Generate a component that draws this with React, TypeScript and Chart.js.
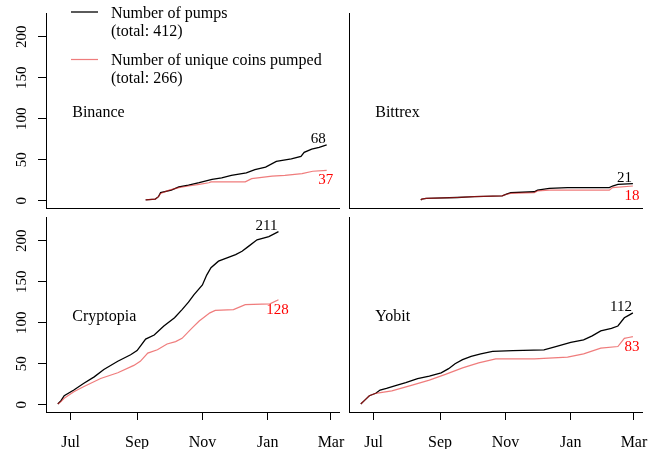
import React, { useEffect, useRef } from 'react';
import { Chart, registerables } from 'chart.js';

Chart.register(...registerables);

// x values: days since 2017-07-01
const X_TICK_DAYS = [0, 62, 123, 184, 243];
const X_TICK_LABELS = ['Jul', 'Sep', 'Nov', 'Jan', 'Mar'];
const Y_TICKS = [0, 50, 100, 150, 200];

const LEGEND_PUMPS = ['Number of pumps', '(total: 412)'];
const LEGEND_COINS = ['Number of unique coins pumped', '(total: 266)'];

// Binance
const BINANCE_PUMP_DAYS = [70, 79, 82, 84, 94, 101, 110, 120, 132, 141, 150, 164, 172, 182, 192, 206, 215, 218, 225, 232, 239];
const BINANCE_PUMPS = [1, 2, 5, 10, 13, 17, 19, 22, 26, 28, 31, 34, 38, 41, 48, 51, 54, 59, 63, 65, 68];
const BINANCE_COIN_DAYS = [70, 79, 82, 84, 92, 101, 110, 120, 129, 131, 163, 169, 188, 200, 216, 226, 239];
const BINANCE_COINS = [1, 2, 5, 9, 13, 16, 18, 20, 22, 23, 23, 27, 30, 31, 33, 36, 37];

// Bittrex
const BITTREX_PUMP_DAYS = [44, 45, 49, 78, 94, 120, 124, 128, 150, 153, 164, 181, 220, 223, 228, 242];
const BITTREX_PUMPS = [1, 2, 3, 4, 5, 6, 8, 10, 11, 13, 15, 16, 16, 18, 20, 21];
const BITTREX_COIN_DAYS = [44, 45, 49, 78, 94, 120, 124, 128, 150, 153, 164, 181, 220, 223, 242];
const BITTREX_COINS = [1, 2, 3, 4, 5, 6, 8, 9, 10, 12, 13, 13, 13, 16, 18];

// Cryptopia
const CRYPTOPIA_PUMP_DAYS = [-12, -9, -6, 3, 12, 22, 31, 44, 56, 62, 66, 70, 78, 87, 97, 104, 110, 115, 123, 127, 131, 138, 146, 154, 160, 166, 174, 185, 194];
const CRYPTOPIA_PUMPS = [1, 5, 11, 18, 26, 34, 43, 53, 61, 66, 73, 80, 85, 96, 106, 116, 125, 134, 146, 158, 167, 175, 179, 183, 187, 193, 201, 205, 211];
const CRYPTOPIA_COIN_DAYS = [-12, -9, -6, 3, 12, 28, 44, 59, 65, 72, 81, 90, 98, 104, 113, 120, 130, 135, 152, 163, 186, 194];
const CRYPTOPIA_COINS = [1, 4, 8, 16, 22, 32, 39, 48, 53, 63, 67, 74, 77, 81, 93, 102, 112, 115, 116, 122, 123, 128];

// Yobit
const YOBIT_PUMP_DAYS = [-12, -8, -4, 2, 6, 12, 22, 30, 41, 52, 63, 70, 76, 83, 91, 100, 111, 130, 159, 170, 184, 196, 204, 212, 222, 228, 234, 238, 242];
const YOBIT_PUMPS = [1, 6, 11, 14, 18, 20, 24, 27, 32, 35, 39, 44, 50, 55, 59, 62, 65, 66, 67, 71, 76, 79, 84, 90, 93, 96, 106, 109, 112];
const YOBIT_COIN_DAYS = [-12, -8, -4, 2, 17, 36, 52, 67, 83, 98, 114, 150, 181, 196, 212, 228, 234, 238, 242];
const YOBIT_COINS = [1, 6, 11, 14, 17, 24, 30, 37, 45, 51, 56, 56, 58, 62, 69, 71, 81, 82, 83];

const SERIES: Record<string, { pd: number[]; pv: number[]; cd: number[]; cv: number[] }> = {
  Binance: { pd: BINANCE_PUMP_DAYS, pv: BINANCE_PUMPS, cd: BINANCE_COIN_DAYS, cv: BINANCE_COINS },
  Bittrex: { pd: BITTREX_PUMP_DAYS, pv: BITTREX_PUMPS, cd: BITTREX_COIN_DAYS, cv: BITTREX_COINS },
  Cryptopia: { pd: CRYPTOPIA_PUMP_DAYS, pv: CRYPTOPIA_PUMPS, cd: CRYPTOPIA_COIN_DAYS, cv: CRYPTOPIA_COINS },
  Yobit: { pd: YOBIT_PUMP_DAYS, pv: YOBIT_PUMPS, cd: YOBIT_COIN_DAYS, cv: YOBIT_COINS },
};

const SERIF = '"Liberation Serif", "Times New Roman", serif';
const X_MIN = -23;
const X_MAX = 250.5;
const Y_MIN = -8.8;
const Y_MAX = 228.8;
const RED_LINE = 'rgba(228, 30, 30, 0.58)';
const RED_TEXT = '#ff0000';

type PanelProps = {
  name: string;
  left: number;
  top: number;
  width: number;
  height: number;
  padTop: number;
  padRight: number;
  yWidth: number;
  xHeight: number;
  leftCol: boolean;
  bottomRow: boolean;
  legend: boolean;
};

function Panel(p: PanelProps) {
  const ref = useRef<HTMLCanvasElement | null>(null);
  useEffect(() => {
    const canvas = ref.current;
    if (!canvas) return;
    const s = SERIES[p.name];
    const pts = (d: number[], v: number[]) => d.map((x, i) => ({ x, y: v[i] }));

    const overlay = {
      id: 'overlay' + p.name,
      afterDatasetsDraw(chart: any) {
        const { ctx } = chart;
        const xs = chart.scales.x;
        const ys = chart.scales.y;
        ctx.save();
        // panel name
        ctx.font = `16px ${SERIF}`;
        ctx.fillStyle = '#000';
        ctx.textAlign = 'left';
        ctx.textBaseline = 'alphabetic';
        ctx.fillText(p.name, xs.getPixelForValue(1.5), ys.getPixelForValue(102));

        // end labels
        ctx.font = `15px ${SERIF}`;
        const lp = s.pv.length - 1;
        const bx = xs.getPixelForValue(s.pd[lp]);
        const by = ys.getPixelForValue(s.pv[lp]);
        ctx.fillStyle = '#000';
        ctx.textAlign = 'right';
        ctx.fillText(String(s.pv[lp]), bx - 1, by - 2);
        const lc = s.cv.length - 1;
        const rx = xs.getPixelForValue(s.cd[lc]);
        const ry = ys.getPixelForValue(s.cv[lc]);
        ctx.fillStyle = RED_TEXT;
        ctx.textAlign = 'center';
        ctx.fillText(String(s.cv[lc]), rx - 1, ry + 14);

        if (p.legend) {
          ctx.lineWidth = 1.3;
          ctx.strokeStyle = '#000';
          ctx.beginPath();
          ctx.moveTo(71, 12);
          ctx.lineTo(98, 12);
          ctx.stroke();
          ctx.strokeStyle = RED_LINE;
          ctx.lineWidth = 1.2;
          ctx.beginPath();
          ctx.moveTo(71, 59.5);
          ctx.lineTo(98, 59.5);
          ctx.stroke();
          ctx.font = `16px ${SERIF}`;
          ctx.fillStyle = '#000';
          ctx.textAlign = 'left';
          ctx.fillText(LEGEND_PUMPS[0], 111, 17.5);
          ctx.fillText(LEGEND_PUMPS[1], 111, 35.5);
          ctx.fillText(LEGEND_COINS[0], 111, 64.5);
          ctx.fillText(LEGEND_COINS[1], 111, 82.5);
        }
        ctx.restore();
      },
    };

    const chart = new Chart(canvas, {
      type: 'line',
      data: {
        datasets: [
          {
            label: 'coins',
            data: pts(s.cd, s.cv),
            borderColor: RED_LINE,
            borderWidth: 1.2,
            pointRadius: 0,
            tension: 0,
            fill: false,
          },
          {
            label: 'pumps',
            data: pts(s.pd, s.pv),
            borderColor: '#000',
            borderWidth: 1.3,
            pointRadius: 0,
            tension: 0,
            fill: false,
          },
        ],
      },
      options: {
        animation: false,
        responsive: false,
        maintainAspectRatio: false,
        devicePixelRatio: 1,
        events: [],
        layout: { padding: { top: p.padTop, right: p.padRight, bottom: 0, left: 0 } },
        plugins: { legend: { display: false }, tooltip: { enabled: false } },
        scales: {
          x: {
            type: 'linear',
            min: X_MIN,
            max: X_MAX,
            afterBuildTicks: (sc: any) => {
              sc.ticks = X_TICK_DAYS.map((v) => ({ value: v }));
            },
            afterFit: (sc: any) => {
              sc.height = p.xHeight;
              sc.paddingLeft = 0;
              sc.paddingRight = 0;
              sc.paddingTop = 0;
              sc.paddingBottom = 0;
            },
            grid: {
              display: p.bottomRow,
              drawOnChartArea: false,
              drawTicks: true,
              tickLength: 8,
              color: '#000',
              tickColor: '#000',
              lineWidth: 1,
            },
            border: { display: true, color: '#000', width: 1 },
            ticks: {
              display: p.bottomRow,
              autoSkip: false,
              minRotation: 0,
              maxRotation: 0,
              padding: 13,
              color: '#000',
              font: { family: SERIF, size: 16 },
              callback: (v: any) => {
                const i = X_TICK_DAYS.indexOf(Number(v));
                return i >= 0 ? X_TICK_LABELS[i] : '';
              },
            },
          },
          y: {
            type: 'linear',
            min: Y_MIN,
            max: Y_MAX,
            afterBuildTicks: (sc: any) => {
              sc.ticks = Y_TICKS.map((v) => ({ value: v }));
            },
            afterFit: (sc: any) => {
              sc.width = p.yWidth;
              sc.paddingLeft = 0;
              sc.paddingRight = 0;
              sc.paddingTop = 0;
              sc.paddingBottom = 0;
            },
            grid: {
              display: p.leftCol,
              drawOnChartArea: false,
              drawTicks: true,
              tickLength: 8,
              color: '#000',
              tickColor: '#000',
              lineWidth: 1,
            },
            border: { display: true, color: '#000', width: 1 },
            ticks: {
              display: p.leftCol,
              minRotation: 90,
              maxRotation: 90,
              crossAlign: 'center',
              padding: 5,
              color: '#000',
              font: { family: SERIF, size: 15 },
              callback: (v: any) => String(v),
            },
          },
        },
      },
      plugins: [overlay],
    } as any);
    return () => chart.destroy();
  }, []);
  return (
    <canvas
      ref={ref}
      width={p.width}
      height={p.height}
      style={{ position: 'absolute', left: p.left, top: p.top, width: p.width, height: p.height }}
    />
  );
}

export default function App() {
  return (
    <div style={{ position: 'absolute', left: 0, top: 0, width: 658, height: 449, overflow: 'hidden', background: '#fff' }}>
      <Panel name="Binance" left={0} top={0} width={365} height={216} padTop={13} padRight={26} yWidth={46} xHeight={8} leftCol bottomRow={false} legend />
      <Panel name="Bittrex" left={340} top={0} width={318} height={216} padTop={13} padRight={16} yWidth={9} xHeight={8} leftCol={false} bottomRow={false} legend={false} />
      <Panel name="Cryptopia" left={0} top={214} width={365} height={235} padTop={3} padRight={26} yWidth={46} xHeight={37} leftCol bottomRow legend={false} />
      <Panel name="Yobit" left={340} top={214} width={318} height={235} padTop={3} padRight={16} yWidth={9} xHeight={37} leftCol={false} bottomRow legend={false} />
    </div>
  );
}
